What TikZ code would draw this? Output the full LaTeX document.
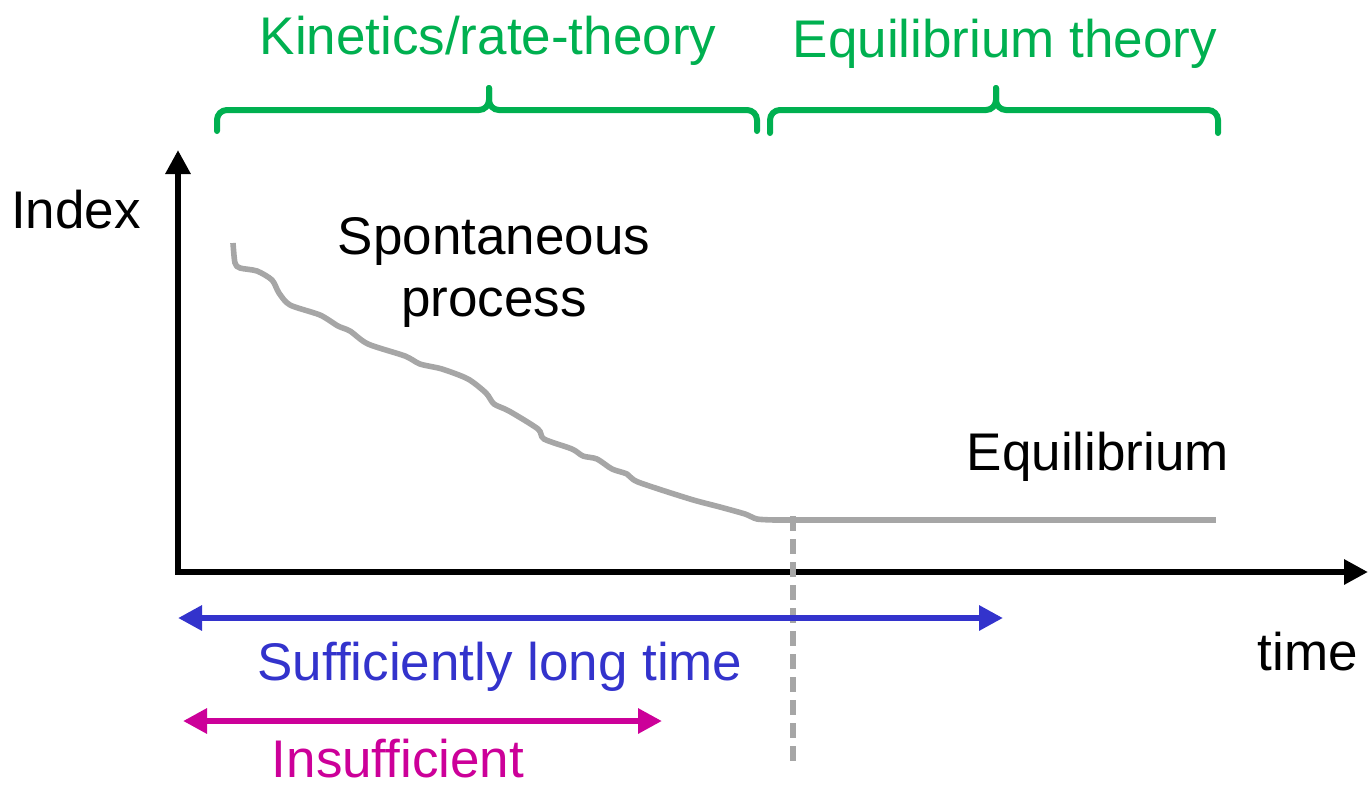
\documentclass[tikz,border=0pt]{standalone}
\usepackage{fontspec}
\setmainfont{Liberation Sans}
\usetikzlibrary{arrows.meta}
\definecolor{theorygreen}{HTML}{00B050}
\definecolor{longblue}{HTML}{3333CC}
\definecolor{shortmagenta}{HTML}{CC0099}
\definecolor{curvegray}{HTML}{A6A6A6}

\begin{document}
\begin{tikzpicture}[
  x=0.5pt, y=-0.5pt,
  every node/.style={font=\fontsize{26.5}{31}\selectfont, align=center,
    inner sep=0pt, anchor=base},
  axis/.style={line width=3.2pt, line join=miter,
    {Triangle[length=12pt,width=12pt]}-{Triangle[length=12pt,width=12pt]}},
  span/.style={line width=3pt,
    {Triangle[length=12pt,width=12pt]}-{Triangle[length=12pt,width=12pt]}},
  bracket/.style={theorygreen, line width=3pt, rounded corners=5pt,
    line cap=round},
  process/.style={curvegray, line width=2.8pt, line join=round}]
\useasboundingbox (0,0) rectangle (1371,788);
% axes
\coordinate (ytop) at (178,150);
\coordinate (origin) at (178,572);
\coordinate (xend) at (1368,572);
\draw[axis] (ytop) -- (origin) -- (xend);
\node (index) at (76,228) {Index};
\node (time) at (1308,670) {time};
% braces
\draw[bracket] (217,131) |- (489,110) -- (489,88);
\draw[bracket] (489,88) -- (489,110) -| (757,131);
\draw[bracket] (770,133) |- (996,110) -- (996,88);
\draw[bracket] (996,88) -- (996,110) -| (1218,133);
\node[text=theorygreen] (kinetics) at (488,54) {Kinetics/rate-theory};
\node[text=theorygreen] (eqtheory) at (1005,57) {Equilibrium theory};
% relaxation curve
\draw[process] plot[smooth, tension=0.45] coordinates {
  (233,243) (235,263) (240,268) (257,271) (272,280) (279,293) (290,305)
  (320,315) (338,326) (350,331) (368,344) (405,356) (420,364) (442,369)
  (468,379) (486,393) (494,404) (509,411) (538,429) (544,439) (572,449)
  (583,456) (597,459) (612,469) (627,474) (638,482) (690,499) (720,507)
  (745,514) (757,519) (775,520)};
\draw[process] (775,520) -- (1216,520);
\node (spont) at (494,316) {Spontaneous\\process};
\node (equil) at (1098,470) {Equilibrium};
% equilibrium onset
\coordinate (dashtop) at (793,516);
\coordinate (dashbot) at (793,762);
\draw[curvegray, line width=2.8pt, dash pattern=on 7.5pt off 4pt]
  (dashtop) -- (dashbot);
% time spans
\coordinate (longl) at (178,618);
\coordinate (longr) at (1003,618);
\draw[span, longblue] (longl) -- (longr);
\node[text=longblue] (long) at (500,680) {Sufficiently long time};
\coordinate (shortl) at (183,721);
\coordinate (shortr) at (662,721);
\draw[span, shortmagenta] (shortl) -- (shortr);
\node[text=shortmagenta] (short) at (398,777) {Insufficient};
\end{tikzpicture}
\end{document}
